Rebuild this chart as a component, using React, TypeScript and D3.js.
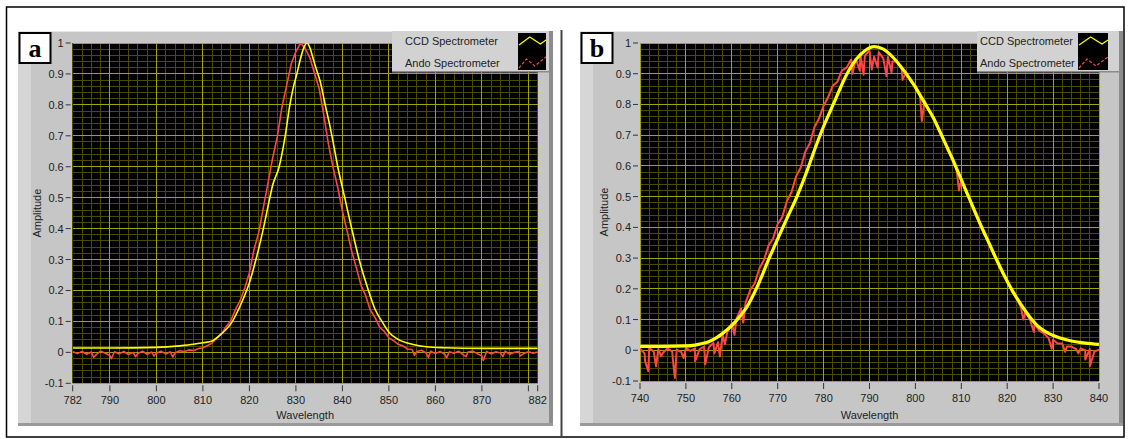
import React from 'react';
import * as d3 from 'd3';

// ---------------- Panel a data ----------------
const aXTicks = [782, 790, 800, 810, 820, 830, 840, 850, 860, 870, 880, 882];
const aXTickLabels = ['782', '790', '800', '810', '820', '830', '840', '850', '860', '870', '', '882'];
const yTicks = [-0.1, 0, 0.1, 0.2, 0.3, 0.4, 0.5, 0.6, 0.7, 0.8, 0.9, 1];
const yTickLabels = ['-0.1', '0', '0.1', '0.2', '0.3', '0.4', '0.5', '0.6', '0.7', '0.8', '0.9', '1'];

const aCcdWl = [782, 790, 800, 805, 808, 810, 812, 814, 816, 818,
  819.4, 820, 821.4, 822, 823, 824.4, 825, 826.4, 827.7, 828.7,
  829.5, 830.2, 831, 831.7, 832.4, 833, 833.7, 834.5, 835.2, 836.3,
  837.2, 838, 839, 840.5, 842, 843.6, 845.6, 847, 848.5, 850,
  852, 855, 858, 862, 870, 882];
const aCcdAmp = [0.014, 0.014, 0.016, 0.021, 0.026, 0.031, 0.037, 0.060, 0.092, 0.150,
  0.20, 0.225, 0.30, 0.335, 0.40, 0.50, 0.54, 0.60, 0.70, 0.80,
  0.86, 0.90, 0.95, 0.985, 1.0, 0.985, 0.95, 0.91, 0.877, 0.80,
  0.74, 0.68, 0.60, 0.50, 0.40, 0.30, 0.20, 0.14, 0.10, 0.065,
  0.042, 0.026, 0.018, 0.015, 0.013, 0.013];

const aAndoStart = 782;
const aAndoAmp = [
  0.002, -0.004, 0.003, -0.006, 0.001, -0.008, 0.004, -0.003, -0.010, 0.002,
  -0.005, 0.003, -0.007, 0.000, -0.004, 0.004, -0.006, 0.001, -0.003, 0.004,
  -0.005, 0.002, -0.002, 0.005, 0.003, 0.008, 0.006, 0.012, 0.015, 0.022,
  0.030, 0.047, 0.060, 0.083, 0.102, 0.138, 0.167, 0.208, 0.257, 0.333,
  0.387, 0.468, 0.547, 0.628, 0.697, 0.793, 0.862, 0.933, 0.972, 1.000,
  0.982, 0.953, 0.902, 0.853, 0.767, 0.673, 0.597, 0.533, 0.457, 0.393,
  0.327, 0.273, 0.217, 0.183, 0.137, 0.113, 0.082, 0.068, 0.047, 0.038,
  0.026, 0.021, 0.011, 0.009, 0.003, 0.007, -0.002, 0.004, -0.004, 0.003,
  -0.006, 0.002, -0.003, 0.004, -0.008, 0.001, 0.004, -0.004, -0.012, 0.003,
  -0.005, 0.002, -0.002, 0.004, -0.006, 0.000, 0.003, -0.004, 0.002, -0.003,
  0.001,
];
const aAndoSpikeWl = [786.5, 790.3, 795.5, 799.5, 803.5, 855.5, 858.5, 862.4, 866.6, 870.3, 874.5, 878.2];
const aAndoSpikeAmp = [-0.016, -0.02, -0.014, -0.012, -0.015, -0.01, -0.016, -0.018, -0.014, -0.026, -0.014, -0.012];

// ---------------- Panel b data ----------------
const bXTicks = [740, 750, 760, 770, 780, 790, 800, 810, 820, 830, 840];
const bXTickLabels = ['740', '750', '760', '770', '780', '790', '800', '810', '820', '830', '840'];

const bCcdWl = [740, 745, 750, 752, 753, 755, 756.7, 758, 760.3, 762,
  763.2, 765.8, 767.9, 770.1, 772.1, 774.1, 776.3, 778.1, 779.9, 782.1,
  785, 787, 789, 791, 793, 795.2, 797.5, 799.6, 802, 803.9,
  806, 808, 810, 812, 814, 816, 818, 820, 822, 824,
  825, 827.1, 829, 831.5, 834, 837, 840];
const bCcdAmp = [0.013, 0.013, 0.014, 0.017, 0.020, 0.028, 0.041, 0.055, 0.085, 0.115,
  0.139, 0.215, 0.291, 0.366, 0.432, 0.497, 0.58, 0.655, 0.725, 0.80,
  0.897, 0.945, 0.975, 0.988, 0.98, 0.952, 0.91, 0.865, 0.805, 0.757,
  0.69, 0.625, 0.555, 0.485, 0.415, 0.35, 0.285, 0.225, 0.172, 0.127,
  0.107, 0.073, 0.055, 0.040, 0.030, 0.023, 0.019];

const bAndoStart = 740;
const bAndoAmp = [
  0.005, -0.010, 0.008, -0.005, 0.004, -0.008, 0.006, -0.004, 0.002, -0.006,
  0.007, -0.002, 0.006, 0.004, 0.012, 0.010, 0.024, 0.026, 0.050, 0.058,
  0.088, 0.102, 0.136, 0.154, 0.196, 0.218, 0.266, 0.294, 0.341, 0.364,
  0.411, 0.434, 0.486, 0.514, 0.566, 0.594, 0.646, 0.674, 0.726, 0.754,
  0.796, 0.824, 0.861, 0.874, 0.911, 0.919, 0.946, 0.949, 0.966, 0.959,
  0.975, 0.955, 0.970, 0.950, 0.955, 0.940, 0.940, 0.915, 0.905, 0.875,
  0.862, 0.832, 0.812, 0.778, 0.758, 0.722, 0.692, 0.652, 0.627, 0.585,
  0.557, 0.515, 0.487, 0.445, 0.417, 0.378, 0.350, 0.312, 0.285, 0.250,
  0.228, 0.192, 0.170, 0.140, 0.125, 0.098, 0.086, 0.064, 0.055, 0.040,
  0.034, 0.022, 0.022, 0.012, 0.012, 0.004, 0.006, 0.000, 0.004, -0.004,
  0.002,
];
const bAndoSpikeWl = [741.1, 741.8, 743.5, 744.6, 747.3, 747.6, 749.5, 752.0, 754.2, 756.2,
  757.4, 758.5, 760.6, 762.5, 786.3, 787.9, 788.7, 790.5, 791.8, 793.7,
  794.8, 797.2, 801.4, 809.5, 823.5, 825.8, 829.7, 832.6, 835.5, 837.0, 838.0];
const bAndoSpikeAmp = [-0.035, -0.068, -0.052, -0.02, -0.05, -0.09, -0.025, -0.036, -0.046, -0.01,
  -0.02, 0.02, 0.05, 0.09, 0.90, 0.91, 0.897, 0.914, 0.92, 0.892,
  0.905, 0.88, 0.746, 0.52, 0.10, 0.06, 0.005, -0.005, -0.01, -0.03, -0.052];

const legendNames = ['CCD Spectrometer', 'Ando Spectrometer'];

type Pt = [number, number];

function zip(wl: number[], amp: number[]): Pt[] {
  return wl.map((w, i) => [w, amp[i]] as Pt);
}
function andoPoints(start: number, amp: number[], sw: number[], sa: number[]): Pt[] {
  const pts: Pt[] = amp.map((v, i) => [start + i, v] as Pt);
  sw.forEach((w, i) => pts.push([w, sa[i]]));
  return pts.sort((p, q) => p[0] - q[0]);
}

const FONT = '"Liberation Sans", Arial, sans-serif';

interface PanelProps {
  id: string;
  letter: string;
  frame: { x: number; y: number; w: number; h: number };
  plot: { l: number; r: number; t: number; b: number };
  xDomain: [number, number];
  xTicks: number[];
  xTickLabels: string[];
  ccd: Pt[];
  ando: Pt[];
  ccdWidth: number;
  andoWidth: number;
  legend: { x: number; w: number; textX: number; swX: number; swW: number };
}

function Panel(p: PanelProps) {
  const { plot, frame, legend } = p;
  const xs = d3.scaleLinear().domain(p.xDomain).range([plot.l, plot.r]);
  const ys = d3.scaleLinear().domain([-0.1, 1]).range([plot.b, plot.t]);
  const minorX = d3.range(Math.ceil(p.xDomain[0] / 2) * 2, p.xDomain[1] + 0.001, 2).filter((v) => v % 10 !== 0);
  const majorX = d3.range(Math.ceil(p.xDomain[0] / 10) * 10, p.xDomain[1] + 0.001, 10);
  const minorY = d3.range(-5, 51).map((k) => k / 50).filter((v) => Math.round(v * 50) % 5 !== 0);
  const majorY = yTicks;
  const lineCcd = d3.line<Pt>().x((d) => xs(d[0])).y((d) => ys(d[1])).curve(d3.curveMonotoneX);
  const lineAndo = d3.line<Pt>().x((d) => xs(d[0])).y((d) => ys(d[1]));
  const clipId = 'clip-' + p.id;
  const swY0 = 33;
  const swH = 37;
  const sw = legend.swX;
  const ww = legend.swW;
  const yel: Pt[] = [[sw + 1, 45], [sw + ww * 0.42, 37], [sw + ww * 0.8, 44], [sw + ww, 40]];
  const red: Pt[] = [[sw + 1, 68], [sw + ww * 0.3, 59], [sw + ww * 0.6, 66], [sw + ww * 0.82, 61], [sw + ww, 57]];
  const pl = d3.line<Pt>();
  return (
    <g>
      <defs>
        <clipPath id={clipId}>
          <rect x={plot.l} y={plot.t} width={plot.r - plot.l} height={plot.b - plot.t} />
        </clipPath>
      </defs>
      {/* frame */}
      <rect x={frame.x} y={frame.y} width={frame.w} height={frame.h} fill="#c6c6c6" />
      <rect x={frame.x} y={frame.y} width={13} height={frame.h} fill="#d6d6d6" />
      <rect x={frame.x} y={frame.y} width={frame.w} height={1} fill="#e4e4e4" />
      <rect x={frame.x + frame.w - 4} y={frame.y} width={4} height={frame.h} fill="#8c8c8c" />
      <rect x={frame.x} y={frame.y + frame.h - 3} width={frame.w} height={3} fill="#9a9a9a" />
      {/* plot */}
      <rect x={plot.l} y={plot.t} width={plot.r - plot.l} height={plot.b - plot.t} fill="#000" />
      <g shapeRendering="crispEdges">
        {minorX.map((v) => (
          <line key={'mx' + v} x1={xs(v)} x2={xs(v)} y1={plot.t} y2={plot.b} stroke="#4a4a00" strokeWidth={1} />
        ))}
        {minorY.map((v) => (
          <line key={'my' + v} x1={plot.l} x2={plot.r} y1={ys(v)} y2={ys(v)} stroke="#4a4a00" strokeWidth={1} />
        ))}
        {majorX.map((v) => (
          <line key={'Mx' + v} x1={xs(v)} x2={xs(v)} y1={plot.t} y2={plot.b} stroke="#a4a400" strokeWidth={1} />
        ))}
        {majorY.map((v) => (
          <line key={'My' + v} x1={plot.l} x2={plot.r} y1={ys(v)} y2={ys(v)} stroke="#a4a400" strokeWidth={1} />
        ))}
      </g>
      <g clipPath={`url(#${clipId})`}>
        <path d={lineAndo(p.ando) || ''} fill="none" stroke="#ff4545" strokeWidth={p.andoWidth} strokeLinejoin="round" />
        <path d={lineCcd(p.ccd) || ''} fill="none" stroke="#ffff00" strokeWidth={p.ccdWidth} strokeLinejoin="round" />
      </g>
      {/* y axis */}
      {yTicks.map((v, i) => (
        <g key={'yt' + v}>
          <line x1={plot.l - 7} x2={plot.l - 2} y1={ys(v)} y2={ys(v)} stroke="#333" strokeWidth={1} />
          <text x={plot.l - 9} y={ys(v) + 4} textAnchor="end" fontFamily={FONT} fontSize={11} fill="#222">
            {yTickLabels[i]}
          </text>
        </g>
      ))}
      {/* x axis */}
      {p.xTicks.map((v, i) => (
        <g key={'xt' + v}>
          <line x1={xs(v)} x2={xs(v)} y1={plot.b + 2} y2={plot.b + 8} stroke="#333" strokeWidth={1} />
          <text x={xs(v)} y={plot.b + 21} textAnchor="middle" fontFamily={FONT} fontSize={11} fill="#222">
            {p.xTickLabels[i]}
          </text>
        </g>
      ))}
      <text x={(plot.l + plot.r) / 2} y={418.5} textAnchor="middle" fontFamily={FONT} fontSize={11} fill="#222">
        Wavelength
      </text>
      <text transform={`translate(${plot.l - 32},${(plot.t + plot.b) / 2}) rotate(-90)`} textAnchor="middle" fontFamily={FONT} fontSize={11} fill="#222">
        Amplitude
      </text>
      {/* letter box */}
      <rect x={frame.x + 1.5} y={frame.y + 2} width={31} height={30} fill="#fff" stroke="#000" strokeWidth={2} />
      <text x={frame.x + 17} y={frame.y + 26} textAnchor="middle" fontFamily='"Liberation Serif", "Times New Roman", serif' fontWeight="bold" fontSize={26} fill="#000">
        {p.letter}
      </text>
      {/* legend */}
      <rect x={legend.x} y={31} width={legend.w} height={41} fill="#d2d2d2" />
      <rect x={legend.x} y={71} width={legend.w} height={1.5} fill="#8a8a8a" />
      <text x={legend.textX} y={44.5} fontFamily={FONT} fontSize={11} fill="#222">{legendNames[0]}</text>
      <text x={legend.textX} y={66.5} fontFamily={FONT} fontSize={11} fill="#222">{legendNames[1]}</text>
      <rect x={sw} y={swY0} width={ww} height={swH} fill="#000" />
      <path d={pl(yel) || ''} fill="none" stroke="#ffff00" strokeWidth={1.2} />
      <path d={pl(red) || ''} fill="none" stroke="#ff4545" strokeWidth={1.2} strokeDasharray="3,2" />
    </g>
  );
}

export default function App() {
  const aCcd = zip(aCcdWl, aCcdAmp);
  const aAndo = andoPoints(aAndoStart, aAndoAmp, aAndoSpikeWl, aAndoSpikeAmp);
  const bCcd = zip(bCcdWl, bCcdAmp);
  const bAndo = andoPoints(bAndoStart, bAndoAmp, bAndoSpikeWl, bAndoSpikeAmp);
  return (
    <svg width={1130} height={439} style={{ position: 'absolute', left: 0, top: 0, background: '#fff' }}>
      <rect x={0} y={0} width={1130} height={439} fill="#fff" />
      <rect x={6.5} y={7} width={1117.5} height={430} fill="none" stroke="#000" strokeWidth={1.5} />
      <line x1={561.5} x2={561.5} y1={30} y2={437} stroke="#444" strokeWidth={2} />
      <Panel
        id="a"
        letter="a"
        frame={{ x: 18, y: 31, w: 535, h: 395 }}
        plot={{ l: 72.7, r: 537.7, t: 43, b: 383.3 }}
        xDomain={[782, 882]}
        xTicks={aXTicks}
        xTickLabels={aXTickLabels}
        ccd={aCcd}
        ando={aAndo}
        ccdWidth={1.6}
        andoWidth={1.6}
        legend={{ x: 392, w: 157, textX: 405, swX: 518, swW: 28 }}
      />
      <Panel
        id="b"
        letter="b"
        frame={{ x: 580, y: 31, w: 543, h: 395 }}
        plot={{ l: 640, r: 1099, t: 43, b: 381 }}
        xDomain={[740, 840]}
        xTicks={bXTicks}
        xTickLabels={bXTickLabels}
        ccd={bCcd}
        ando={bAndo}
        ccdWidth={3.2}
        andoWidth={2}
        legend={{ x: 977, w: 142, textX: 980, swX: 1078, swW: 30 }}
      />
    </svg>
  );
}
